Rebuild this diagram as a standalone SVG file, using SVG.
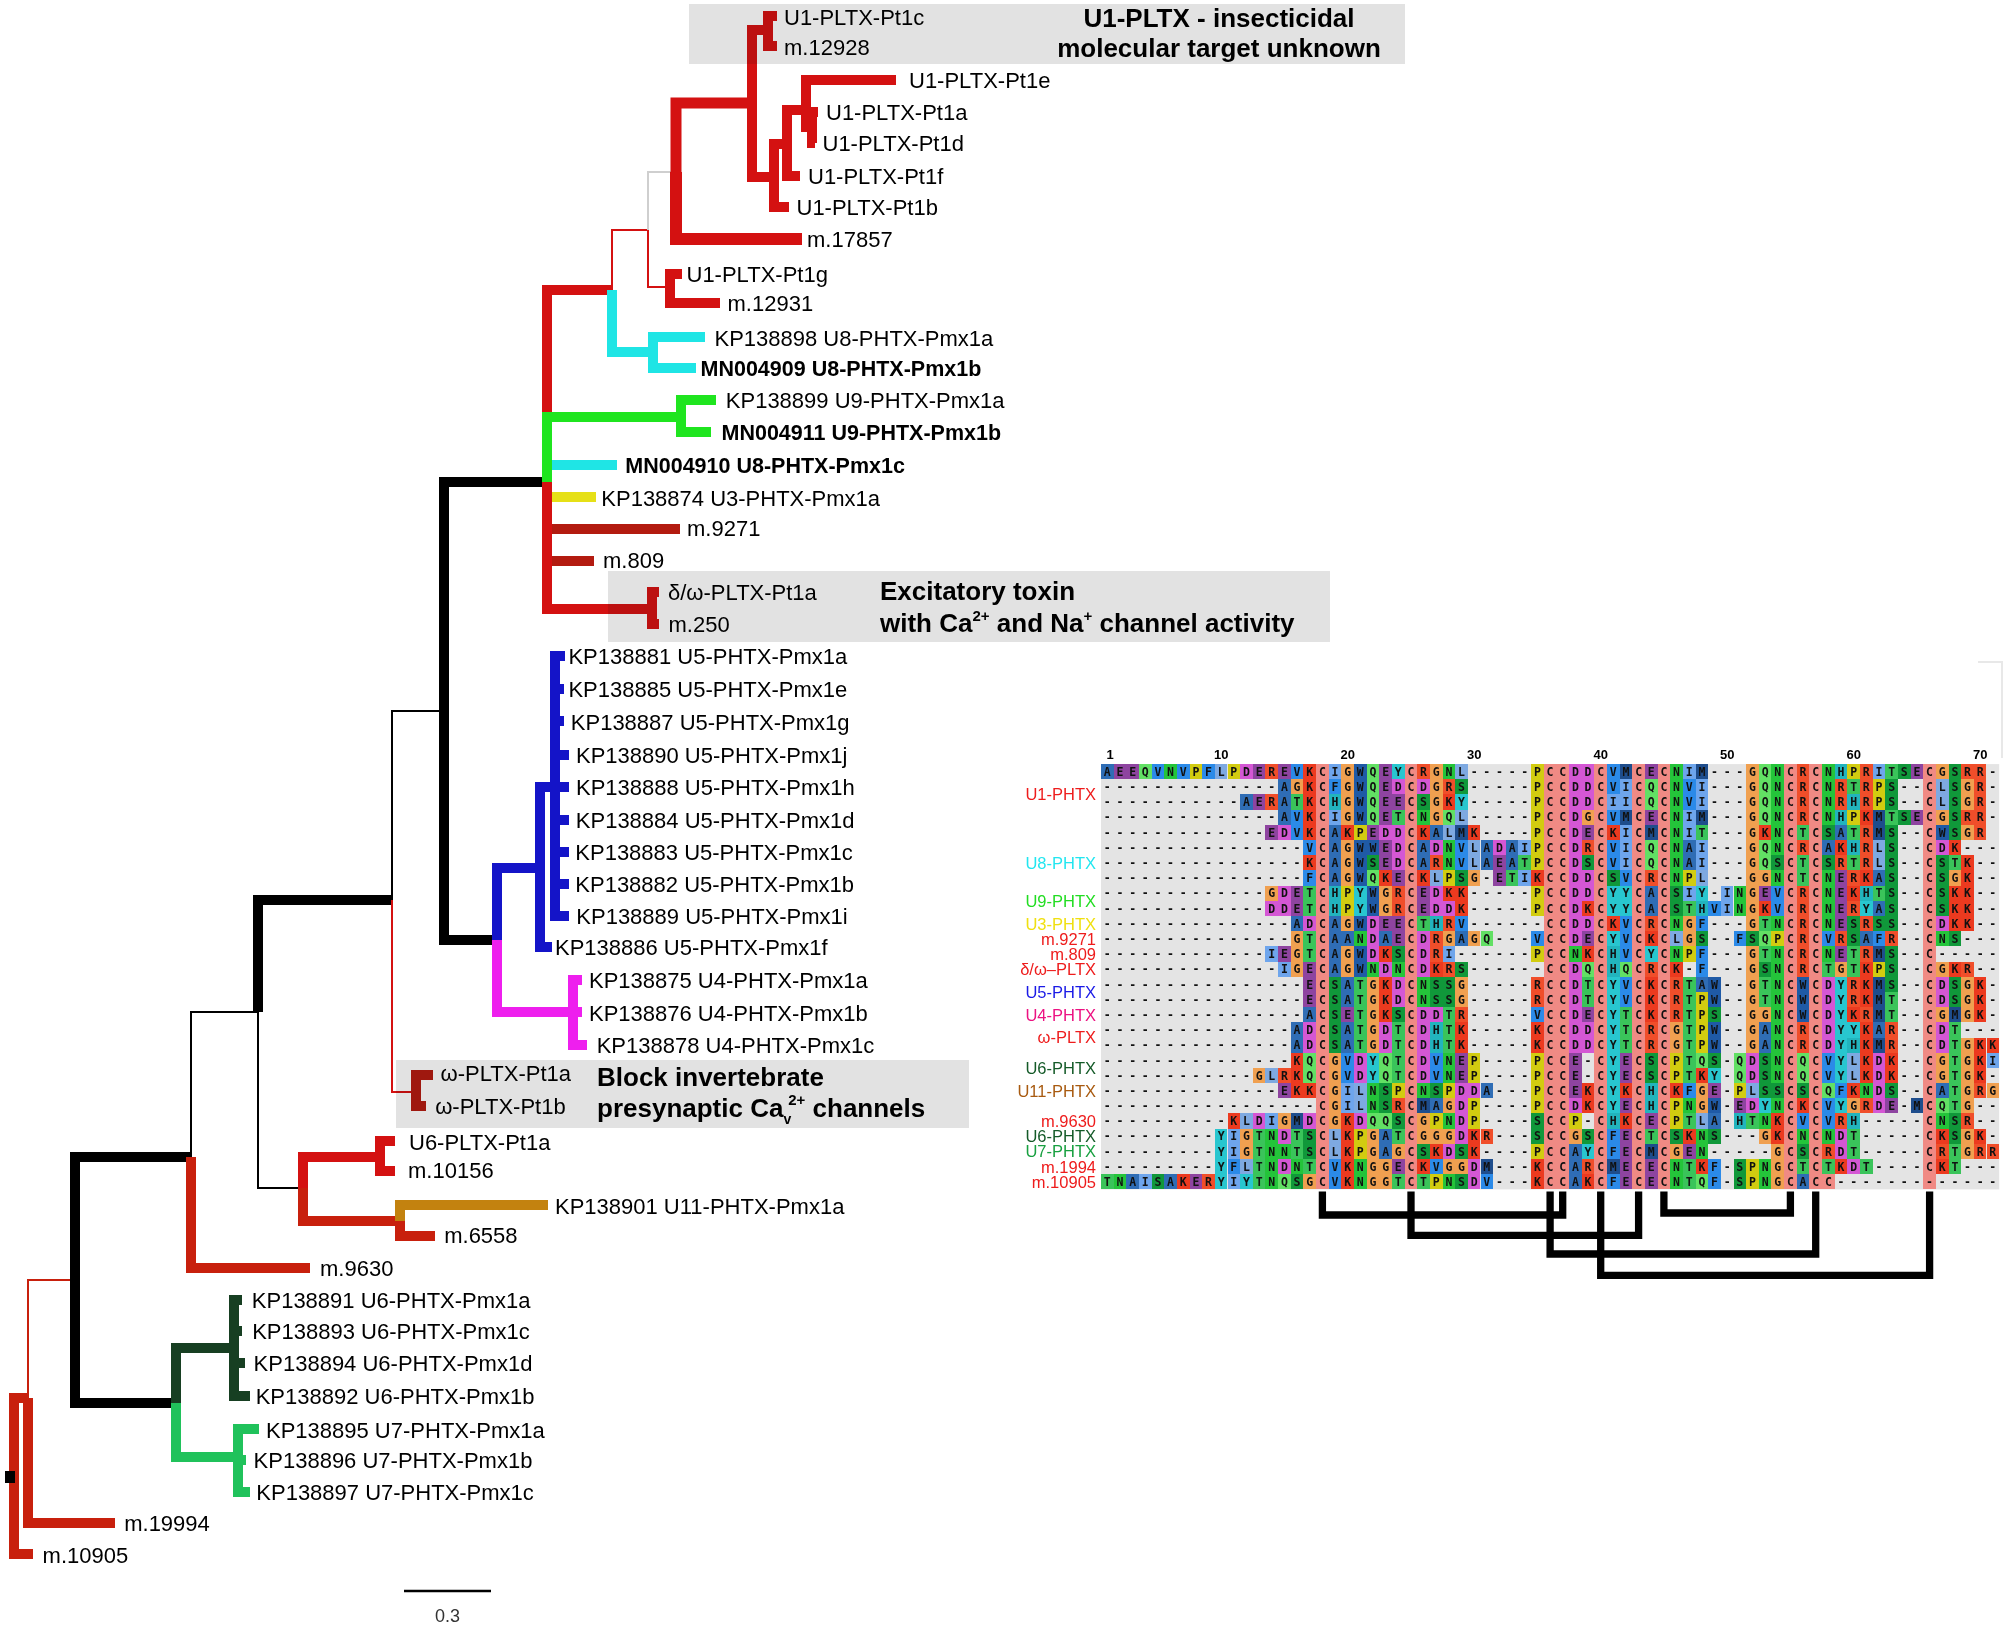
<svg xmlns="http://www.w3.org/2000/svg" width="2008" height="1630" viewBox="0 0 2008 1630">
<style>
.lb{font-family:"Liberation Sans",Arial,Helvetica,sans-serif;font-size:22px;fill:#000}
.bd{font-weight:bold;font-size:21.5px}
.an{font-family:"Liberation Sans",Arial,Helvetica,sans-serif;font-size:26px;font-weight:bold;fill:#000}
.bx{fill:#e2e2e2;mix-blend-mode:multiply}
#connectors path{fill:none;stroke-linejoin:miter;stroke-linecap:butt}
.t{stroke-width:10}
.n{stroke-width:2}
.k{stroke:#000}.rd{stroke:#d41111}.dr{stroke:#b31b10}.or{stroke:#c8200d}.cy{stroke:#1fe5e5}.gn{stroke:#1fe51f}.ye{stroke:#e6e017}.bu{stroke:#1414c8}.mg{stroke:#ee1fee}.dg{stroke:#173f22}.lg{stroke:#20c25b}.bw{stroke:#c3820f}.gy{stroke:#cfcfcf}
.sq{font-family:"DejaVu Sans Mono",monospace;font-weight:bold;font-size:11.5px;letter-spacing:5.726px;fill:#111}
.rl{font-family:"Liberation Sans",Arial,sans-serif;font-size:16.5px;text-anchor:end}
.nm{font-family:"Liberation Sans",Arial,sans-serif;font-size:13px;font-weight:bold;text-anchor:middle;fill:#000}
.ss{fill:none;stroke:#000;stroke-width:7.3;stroke-linejoin:miter}
</style>
<defs>
<rect id="A" width="1" height="1" fill="#2f6db5"/>
<rect id="C" width="1" height="1" fill="#f08a84"/>
<rect id="D" width="1" height="1" fill="#d457d4"/>
<rect id="E" width="1" height="1" fill="#8e44a0"/>
<rect id="F" width="1" height="1" fill="#2b8ae8"/>
<rect id="G" width="1" height="1" fill="#f0a050"/>
<rect id="H" width="1" height="1" fill="#22b4bd"/>
<rect id="I" width="1" height="1" fill="#6ea5ec"/>
<rect id="K" width="1" height="1" fill="#ec3a1f"/>
<rect id="L" width="1" height="1" fill="#7ea9e1"/>
<rect id="M" width="1" height="1" fill="#1e4d8c"/>
<rect id="N" width="1" height="1" fill="#24c43a"/>
<rect id="P" width="1" height="1" fill="#d2cc10"/>
<rect id="Q" width="1" height="1" fill="#62e064"/>
<rect id="R" width="1" height="1" fill="#f04e2a"/>
<rect id="S" width="1" height="1" fill="#10983a"/>
<rect id="T" width="1" height="1" fill="#3ac45a"/>
<rect id="V" width="1" height="1" fill="#2b8ae8"/>
<rect id="W" width="1" height="1" fill="#1f5aa6"/>
<rect id="Y" width="1" height="1" fill="#28c6cf"/>
</defs>
<rect width="2008" height="1630" fill="#fff"/>

<g id="connectors">
<path class="t or" d="M14 1475V1398H28"/>
<path class="t or" d="M14 1475V1554H33"/>
<path class="n or" d="M28 1398V1280H75"/>
<path class="t or" d="M28 1398V1523H115"/>
<path class="t k" d="M75 1280V1157H191"/>
<path class="t k" d="M75 1280V1403H176"/>
<path class="n k" d="M191 1157V1012H258"/>
<path class="t or" d="M191 1157V1268H310"/>
<path class="t k" d="M258 1012V900H392"/>
<path class="n k" d="M258 1012V1188H303"/>
<path class="n k" d="M392 900V711H444"/>
<path class="n rd" d="M392 900V1092H416"/>
<path class="t dr" d="M416 1092V1075H433"/>
<path class="t dr" d="M416 1092V1106H426"/>
<path class="t k" d="M444 711V482H547"/>
<path class="t k" d="M444 711V940H497"/>
<path class="t rd" d="M547 482V290H612"/>
<path class="t cy" d="M547 482V465H617"/>
<path class="t gn" d="M547 482V417H681"/>
<path class="t ye" d="M547 482V497H596"/>
<path class="t dr" d="M547 482V529H680"/>
<path class="t dr" d="M547 482V561H594"/>
<path class="t rd" d="M547 482V609H652"/>
<path class="n rd" d="M612 290V230H648"/>
<path class="t cy" d="M612 290V352H653"/>
<path class="n gy" d="M648 230V172H676"/>
<path class="n rd" d="M648 230V287H670"/>
<path class="rd" stroke-width="11" d="M676 172V103H752"/>
<path class="rd" stroke-width="12" d="M676 172V239H802"/>
<path class="t rd" d="M752 103V30H768"/>
<path class="t rd" d="M752 103V177H774"/>
<path class="t rd" d="M768 30V16H777"/>
<path class="t rd" d="M768 30V46H777"/>
<path class="t rd" d="M774 177V144H787"/>
<path class="t rd" d="M774 177V207H789"/>
<path class="t rd" d="M787 144V110H806"/>
<path class="t rd" d="M787 144V176H800"/>
<path class="t rd" d="M806 110V80H896"/>
<path class="t rd" d="M806 110V127H812"/>
<path class="t rd" d="M812 127V112H818"/>
<path class="t rd" d="M812 127V143H815"/>
<path class="t rd" d="M670 287V274H682"/>
<path class="t rd" d="M670 287V303H720"/>
<path class="t cy" d="M653 352V337H705"/>
<path class="t cy" d="M653 352V368H696"/>
<path class="t gn" d="M681 417V400H716"/>
<path class="t gn" d="M681 417V432H711"/>
<path class="t rd" d="M652 609V592H659"/>
<path class="t rd" d="M652 609V624H659"/>
<path class="t bu" d="M497 940V868H540"/>
<path class="t mg" d="M497 940V1012H573"/>
<path class="t bu" d="M540 868V787H555"/>
<path class="t bu" d="M540 868V947H552"/>
<path class="t bu" d="M555 787V656H565"/>
<path class="t bu" d="M555 787V689H564"/>
<path class="t bu" d="M555 787V721H564"/>
<path class="t bu" d="M555 787V755H569"/>
<path class="t bu" d="M555 787H569"/>
<path class="t bu" d="M555 787V820H569"/>
<path class="t bu" d="M555 787V852H569"/>
<path class="t bu" d="M555 787V884H569"/>
<path class="t bu" d="M555 787V916H569"/>
<path class="t mg" d="M573 1012V980H582"/>
<path class="t mg" d="M573 1012H582"/>
<path class="t mg" d="M573 1012V1045H587"/>
<path class="t rd" d="M303 1188V1157H380"/>
<path class="t or" d="M303 1188V1221H400"/>
<path class="t rd" d="M380 1157V1141H395"/>
<path class="t rd" d="M380 1157V1171H395"/>
<path class="t bw" d="M400 1221V1205H548"/>
<path class="t or" d="M400 1221V1236H435"/>
<path class="t dg" d="M176 1403V1348H234"/>
<path class="t lg" d="M176 1403V1457H238"/>
<path class="t dg" d="M234 1348V1300H242"/>
<path class="t dg" d="M234 1348V1331H242"/>
<path class="t dg" d="M234 1348V1363H245"/>
<path class="t dg" d="M234 1348V1396H250"/>
<path class="t lg" d="M238 1457V1429H259"/>
<path class="t lg" d="M238 1457V1460H246"/>
<path class="t lg" d="M238 1457V1492H250"/>
</g>
<g id="root"><rect x="5" y="1471" width="10" height="12" fill="#000"/></g>

<g id="box-u1"><rect class="bx" x="689" y="4" width="716" height="60"/>
<text class="an" x="1219" y="27" text-anchor="middle">U1-PLTX - insecticidal</text>
<text class="an" x="1219" y="57" text-anchor="middle">molecular target unknown</text></g>
<g id="box-excitatory"><rect class="bx" x="608" y="571" width="722" height="71"/>
<text class="an" x="880" y="600">Excitatory toxin</text>
<text class="an" x="880" y="632">with Ca<tspan font-size="15" dy="-11">2+</tspan><tspan dy="11"> and Na</tspan><tspan font-size="15" dy="-11">+</tspan><tspan dy="11"> channel activity</tspan></text></g>
<g id="box-block"><rect class="bx" x="396" y="1060" width="573" height="68"/>
<text class="an" x="597" y="1086">Block invertebrate</text>
<text class="an" x="597" y="1117">presynaptic Ca<tspan font-size="14" dy="7">v</tspan><tspan font-size="15" dx="-3" dy="-19">2+</tspan><tspan dy="12"> channels</tspan></text></g>

<g id="leaf-U1-PLTX-Pt1c"><text class="lb" x="784" y="24.5">U1-PLTX-Pt1c</text></g>
<g id="leaf-m12928"><text class="lb" x="784" y="54.5">m.12928</text></g>
<g id="leaf-U1-PLTX-Pt1e"><text class="lb" x="909" y="88">U1-PLTX-Pt1e</text></g>
<g id="leaf-U1-PLTX-Pt1a"><text class="lb" x="826" y="120">U1-PLTX-Pt1a</text></g>
<g id="leaf-U1-PLTX-Pt1d"><text class="lb" x="822.5" y="151">U1-PLTX-Pt1d</text></g>
<g id="leaf-U1-PLTX-Pt1f"><text class="lb" x="808" y="184">U1-PLTX-Pt1f</text></g>
<g id="leaf-U1-PLTX-Pt1b"><text class="lb" x="796.5" y="215">U1-PLTX-Pt1b</text></g>
<g id="leaf-m17857"><text class="lb" x="807" y="246.5">m.17857</text></g>
<g id="leaf-U1-PLTX-Pt1g"><text class="lb" x="686.5" y="282">U1-PLTX-Pt1g</text></g>
<g id="leaf-m12931"><text class="lb" x="727.5" y="311">m.12931</text></g>
<g id="leaf-KP138898"><text class="lb" x="714.5" y="345.5">KP138898 U8-PHTX-Pmx1a</text></g>
<g id="leaf-MN004909"><text class="lb bd" x="700.5" y="376">MN004909 U8-PHTX-Pmx1b</text></g>
<g id="leaf-KP138899"><text class="lb" x="725.8" y="408">KP138899 U9-PHTX-Pmx1a</text></g>
<g id="leaf-MN004911"><text class="lb bd" x="721.5" y="440">MN004911 U9-PHTX-Pmx1b</text></g>
<g id="leaf-MN004910"><text class="lb bd" x="625.3" y="473">MN004910 U8-PHTX-Pmx1c</text></g>
<g id="leaf-KP138874"><text class="lb" x="601.3" y="505.5">KP138874 U3-PHTX-Pmx1a</text></g>
<g id="leaf-m9271"><text class="lb" x="687" y="536">m.9271</text></g>
<g id="leaf-m809"><text class="lb" x="603" y="568">m.809</text></g>
<g id="leaf-dw-PLTX-Pt1a"><text class="lb" x="668" y="599.5">δ/ω-PLTX-Pt1a</text></g>
<g id="leaf-m250"><text class="lb" x="668.5" y="632">m.250</text></g>
<g id="leaf-KP138881"><text class="lb" x="568.4" y="663.5">KP138881 U5-PHTX-Pmx1a</text></g>
<g id="leaf-KP138885"><text class="lb" x="568.4" y="697">KP138885 U5-PHTX-Pmx1e</text></g>
<g id="leaf-KP138887"><text class="lb" x="570.8" y="729.5">KP138887 U5-PHTX-Pmx1g</text></g>
<g id="leaf-KP138890"><text class="lb" x="576" y="762.5">KP138890 U5-PHTX-Pmx1j</text></g>
<g id="leaf-KP138888"><text class="lb" x="576" y="794.5">KP138888 U5-PHTX-Pmx1h</text></g>
<g id="leaf-KP138884"><text class="lb" x="575.8" y="828">KP138884 U5-PHTX-Pmx1d</text></g>
<g id="leaf-KP138883"><text class="lb" x="575.3" y="860">KP138883 U5-PHTX-Pmx1c</text></g>
<g id="leaf-KP138882"><text class="lb" x="575.3" y="892">KP138882 U5-PHTX-Pmx1b</text></g>
<g id="leaf-KP138889"><text class="lb" x="576.3" y="923.5">KP138889 U5-PHTX-Pmx1i</text></g>
<g id="leaf-KP138886"><text class="lb" x="555" y="955">KP138886 U5-PHTX-Pmx1f</text></g>
<g id="leaf-KP138875"><text class="lb" x="589" y="987.5">KP138875 U4-PHTX-Pmx1a</text></g>
<g id="leaf-KP138876"><text class="lb" x="589" y="1021">KP138876 U4-PHTX-Pmx1b</text></g>
<g id="leaf-KP138878"><text class="lb" x="596.7" y="1053">KP138878 U4-PHTX-Pmx1c</text></g>
<g id="leaf-w-PLTX-Pt1a"><text class="lb" x="440.5" y="1081">ω-PLTX-Pt1a</text></g>
<g id="leaf-w-PLTX-Pt1b"><text class="lb" x="435.2" y="1113.5">ω-PLTX-Pt1b</text></g>
<g id="leaf-U6-PLTX-Pt1a"><text class="lb" x="409" y="1149.5">U6-PLTX-Pt1a</text></g>
<g id="leaf-m10156"><text class="lb" x="408" y="1178">m.10156</text></g>
<g id="leaf-KP138901"><text class="lb" x="555" y="1214">KP138901 U11-PHTX-Pmx1a</text></g>
<g id="leaf-m6558"><text class="lb" x="444.2" y="1242.5">m.6558</text></g>
<g id="leaf-m9630"><text class="lb" x="320" y="1276">m.9630</text></g>
<g id="leaf-KP138891"><text class="lb" x="251.8" y="1308">KP138891 U6-PHTX-Pmx1a</text></g>
<g id="leaf-KP138893"><text class="lb" x="252.2" y="1339">KP138893 U6-PHTX-Pmx1c</text></g>
<g id="leaf-KP138894"><text class="lb" x="253.6" y="1371">KP138894 U6-PHTX-Pmx1d</text></g>
<g id="leaf-KP138892"><text class="lb" x="255.7" y="1404">KP138892 U6-PHTX-Pmx1b</text></g>
<g id="leaf-KP138895"><text class="lb" x="266" y="1437.5">KP138895 U7-PHTX-Pmx1a</text></g>
<g id="leaf-KP138896"><text class="lb" x="253.6" y="1468.4">KP138896 U7-PHTX-Pmx1b</text></g>
<g id="leaf-KP138897"><text class="lb" x="256.3" y="1500.3">KP138897 U7-PHTX-Pmx1c</text></g>
<g id="leaf-m19994"><text class="lb" x="124.2" y="1531">m.19994</text></g>
<g id="leaf-m10905"><text class="lb" x="42.6" y="1562.5">m.10905</text></g>

<g id="scale-bar"><line x1="404" y1="1591" x2="491" y2="1591" stroke="#000" stroke-width="2.5"/>
<text x="447.5" y="1622" text-anchor="middle" font-family="Liberation Sans, Arial, sans-serif" font-size="18" fill="#333">0.3</text></g>

<path d="M1978 662H2002V758" fill="none" stroke="#e8e8e8" stroke-width="2"/>

<g id="alignment">
<g id="numbers">
<text class="nm" x="1110" y="759">1</text><text class="nm" x="1221.2" y="759">10</text><text class="nm" x="1347.7" y="759">20</text><text class="nm" x="1474.2" y="759">30</text><text class="nm" x="1600.7" y="759">40</text><text class="nm" x="1727.2" y="759">50</text><text class="nm" x="1853.7" y="759">60</text><text class="nm" x="1980.2" y="759">70</text>
</g>
<rect x="1101" y="764.1" width="898.2" height="425.3" fill="#e4e4e4"/>
<g transform="translate(1101 764.1) scale(12.65 15.19)" shape-rendering="crispEdges">
<rect x="17" width="1" height="28" fill="#f08a84"/><rect x="24" width="1" height="28" fill="#f08a84"/><rect x="35" width="1" height="28" fill="#f08a84"/><rect x="36" width="1" height="28" fill="#f08a84"/><rect x="39" width="1" height="28" fill="#f08a84"/><rect x="42" width="1" height="28" fill="#f08a84"/><rect x="44" width="1" height="28" fill="#f08a84"/><rect x="54" width="1" height="28" fill="#f08a84"/><rect x="56" width="1" height="28" fill="#f08a84"/><rect x="65" width="1" height="28" fill="#f08a84"/>
<g><use href="#A" x="0"/><use href="#E" x="1"/><use href="#E" x="2"/><use href="#Q" x="3"/><use href="#V" x="4"/><use href="#N" x="5"/><use href="#V" x="6"/><use href="#P" x="7"/><use href="#F" x="8"/><use href="#L" x="9"/><use href="#P" x="10"/><use href="#D" x="11"/><use href="#E" x="12"/><use href="#R" x="13"/><use href="#E" x="14"/><use href="#V" x="15"/><use href="#K" x="16"/><use href="#I" x="18"/><use href="#G" x="19"/><use href="#W" x="20"/><use href="#Q" x="21"/><use href="#E" x="22"/><use href="#Y" x="23"/><use href="#R" x="25"/><use href="#G" x="26"/><use href="#N" x="27"/><use href="#L" x="28"/><use href="#P" x="34"/><use href="#D" x="37"/><use href="#D" x="38"/><use href="#V" x="40"/><use href="#M" x="41"/><use href="#E" x="43"/><use href="#N" x="45"/><use href="#I" x="46"/><use href="#M" x="47"/><use href="#G" x="51"/><use href="#Q" x="52"/><use href="#N" x="53"/><use href="#R" x="55"/><use href="#N" x="57"/><use href="#H" x="58"/><use href="#P" x="59"/><use href="#R" x="60"/><use href="#I" x="61"/><use href="#T" x="62"/><use href="#S" x="63"/><use href="#E" x="64"/><use href="#G" x="66"/><use href="#S" x="67"/><use href="#R" x="68"/><use href="#R" x="69"/></g>
<g transform="translate(0 1)"><use href="#A" x="14"/><use href="#G" x="15"/><use href="#K" x="16"/><use href="#F" x="18"/><use href="#G" x="19"/><use href="#W" x="20"/><use href="#Q" x="21"/><use href="#E" x="22"/><use href="#D" x="23"/><use href="#D" x="25"/><use href="#G" x="26"/><use href="#R" x="27"/><use href="#S" x="28"/><use href="#P" x="34"/><use href="#D" x="37"/><use href="#D" x="38"/><use href="#V" x="40"/><use href="#I" x="41"/><use href="#Q" x="43"/><use href="#N" x="45"/><use href="#V" x="46"/><use href="#I" x="47"/><use href="#G" x="51"/><use href="#Q" x="52"/><use href="#N" x="53"/><use href="#R" x="55"/><use href="#N" x="57"/><use href="#R" x="58"/><use href="#T" x="59"/><use href="#R" x="60"/><use href="#P" x="61"/><use href="#S" x="62"/><use href="#L" x="66"/><use href="#S" x="67"/><use href="#G" x="68"/><use href="#R" x="69"/></g>
<g transform="translate(0 2)"><use href="#A" x="11"/><use href="#E" x="12"/><use href="#R" x="13"/><use href="#A" x="14"/><use href="#T" x="15"/><use href="#K" x="16"/><use href="#H" x="18"/><use href="#G" x="19"/><use href="#W" x="20"/><use href="#Q" x="21"/><use href="#E" x="22"/><use href="#E" x="23"/><use href="#S" x="25"/><use href="#G" x="26"/><use href="#K" x="27"/><use href="#Y" x="28"/><use href="#P" x="34"/><use href="#D" x="37"/><use href="#D" x="38"/><use href="#I" x="40"/><use href="#I" x="41"/><use href="#Q" x="43"/><use href="#N" x="45"/><use href="#V" x="46"/><use href="#I" x="47"/><use href="#G" x="51"/><use href="#Q" x="52"/><use href="#N" x="53"/><use href="#R" x="55"/><use href="#N" x="57"/><use href="#R" x="58"/><use href="#H" x="59"/><use href="#R" x="60"/><use href="#P" x="61"/><use href="#S" x="62"/><use href="#L" x="66"/><use href="#S" x="67"/><use href="#G" x="68"/><use href="#R" x="69"/></g>
<g transform="translate(0 3)"><use href="#A" x="14"/><use href="#V" x="15"/><use href="#K" x="16"/><use href="#I" x="18"/><use href="#G" x="19"/><use href="#W" x="20"/><use href="#Q" x="21"/><use href="#E" x="22"/><use href="#T" x="23"/><use href="#N" x="25"/><use href="#G" x="26"/><use href="#Q" x="27"/><use href="#L" x="28"/><use href="#P" x="34"/><use href="#D" x="37"/><use href="#G" x="38"/><use href="#V" x="40"/><use href="#M" x="41"/><use href="#E" x="43"/><use href="#N" x="45"/><use href="#I" x="46"/><use href="#M" x="47"/><use href="#G" x="51"/><use href="#Q" x="52"/><use href="#N" x="53"/><use href="#R" x="55"/><use href="#N" x="57"/><use href="#H" x="58"/><use href="#P" x="59"/><use href="#K" x="60"/><use href="#M" x="61"/><use href="#T" x="62"/><use href="#S" x="63"/><use href="#E" x="64"/><use href="#G" x="66"/><use href="#S" x="67"/><use href="#R" x="68"/><use href="#R" x="69"/></g>
<g transform="translate(0 4)"><use href="#E" x="13"/><use href="#D" x="14"/><use href="#V" x="15"/><use href="#K" x="16"/><use href="#A" x="18"/><use href="#K" x="19"/><use href="#P" x="20"/><use href="#E" x="21"/><use href="#D" x="22"/><use href="#D" x="23"/><use href="#K" x="25"/><use href="#A" x="26"/><use href="#L" x="27"/><use href="#M" x="28"/><use href="#K" x="29"/><use href="#P" x="34"/><use href="#D" x="37"/><use href="#E" x="38"/><use href="#K" x="40"/><use href="#I" x="41"/><use href="#M" x="43"/><use href="#N" x="45"/><use href="#I" x="46"/><use href="#T" x="47"/><use href="#G" x="51"/><use href="#K" x="52"/><use href="#N" x="53"/><use href="#T" x="55"/><use href="#S" x="57"/><use href="#A" x="58"/><use href="#T" x="59"/><use href="#R" x="60"/><use href="#M" x="61"/><use href="#S" x="62"/><use href="#W" x="66"/><use href="#S" x="67"/><use href="#G" x="68"/><use href="#R" x="69"/></g>
<g transform="translate(0 5)"><use href="#V" x="16"/><use href="#A" x="18"/><use href="#G" x="19"/><use href="#W" x="20"/><use href="#W" x="21"/><use href="#E" x="22"/><use href="#D" x="23"/><use href="#A" x="25"/><use href="#D" x="26"/><use href="#N" x="27"/><use href="#V" x="28"/><use href="#L" x="29"/><use href="#A" x="30"/><use href="#D" x="31"/><use href="#A" x="32"/><use href="#I" x="33"/><use href="#P" x="34"/><use href="#D" x="37"/><use href="#R" x="38"/><use href="#V" x="40"/><use href="#I" x="41"/><use href="#Q" x="43"/><use href="#N" x="45"/><use href="#A" x="46"/><use href="#I" x="47"/><use href="#G" x="51"/><use href="#Q" x="52"/><use href="#N" x="53"/><use href="#R" x="55"/><use href="#A" x="57"/><use href="#K" x="58"/><use href="#H" x="59"/><use href="#R" x="60"/><use href="#L" x="61"/><use href="#S" x="62"/><use href="#D" x="66"/><use href="#K" x="67"/></g>
<g transform="translate(0 6)"><use href="#K" x="16"/><use href="#A" x="18"/><use href="#G" x="19"/><use href="#W" x="20"/><use href="#S" x="21"/><use href="#E" x="22"/><use href="#D" x="23"/><use href="#A" x="25"/><use href="#R" x="26"/><use href="#N" x="27"/><use href="#V" x="28"/><use href="#L" x="29"/><use href="#A" x="30"/><use href="#E" x="31"/><use href="#A" x="32"/><use href="#T" x="33"/><use href="#P" x="34"/><use href="#D" x="37"/><use href="#S" x="38"/><use href="#V" x="40"/><use href="#I" x="41"/><use href="#Q" x="43"/><use href="#N" x="45"/><use href="#A" x="46"/><use href="#I" x="47"/><use href="#G" x="51"/><use href="#Q" x="52"/><use href="#S" x="53"/><use href="#T" x="55"/><use href="#S" x="57"/><use href="#R" x="58"/><use href="#T" x="59"/><use href="#R" x="60"/><use href="#L" x="61"/><use href="#S" x="62"/><use href="#S" x="66"/><use href="#T" x="67"/><use href="#K" x="68"/></g>
<g transform="translate(0 7)"><use href="#F" x="16"/><use href="#A" x="18"/><use href="#G" x="19"/><use href="#W" x="20"/><use href="#Q" x="21"/><use href="#K" x="22"/><use href="#E" x="23"/><use href="#K" x="25"/><use href="#L" x="26"/><use href="#P" x="27"/><use href="#S" x="28"/><use href="#G" x="29"/><use href="#E" x="31"/><use href="#T" x="32"/><use href="#I" x="33"/><use href="#K" x="34"/><use href="#D" x="37"/><use href="#D" x="38"/><use href="#S" x="40"/><use href="#V" x="41"/><use href="#R" x="43"/><use href="#N" x="45"/><use href="#P" x="46"/><use href="#L" x="47"/><use href="#G" x="51"/><use href="#G" x="52"/><use href="#N" x="53"/><use href="#T" x="55"/><use href="#N" x="57"/><use href="#E" x="58"/><use href="#R" x="59"/><use href="#K" x="60"/><use href="#A" x="61"/><use href="#S" x="62"/><use href="#S" x="66"/><use href="#G" x="67"/><use href="#K" x="68"/></g>
<g transform="translate(0 8)"><use href="#G" x="13"/><use href="#D" x="14"/><use href="#E" x="15"/><use href="#T" x="16"/><use href="#H" x="18"/><use href="#P" x="19"/><use href="#Y" x="20"/><use href="#W" x="21"/><use href="#G" x="22"/><use href="#R" x="23"/><use href="#E" x="25"/><use href="#D" x="26"/><use href="#K" x="27"/><use href="#K" x="28"/><use href="#P" x="34"/><use href="#D" x="37"/><use href="#D" x="38"/><use href="#Y" x="40"/><use href="#Y" x="41"/><use href="#A" x="43"/><use href="#S" x="45"/><use href="#I" x="46"/><use href="#Y" x="47"/><use href="#I" x="49"/><use href="#N" x="50"/><use href="#G" x="51"/><use href="#E" x="52"/><use href="#V" x="53"/><use href="#R" x="55"/><use href="#N" x="57"/><use href="#E" x="58"/><use href="#K" x="59"/><use href="#H" x="60"/><use href="#T" x="61"/><use href="#S" x="62"/><use href="#S" x="66"/><use href="#K" x="67"/><use href="#K" x="68"/></g>
<g transform="translate(0 9)"><use href="#D" x="13"/><use href="#D" x="14"/><use href="#E" x="15"/><use href="#T" x="16"/><use href="#H" x="18"/><use href="#P" x="19"/><use href="#Y" x="20"/><use href="#W" x="21"/><use href="#G" x="22"/><use href="#R" x="23"/><use href="#E" x="25"/><use href="#D" x="26"/><use href="#D" x="27"/><use href="#K" x="28"/><use href="#P" x="34"/><use href="#D" x="37"/><use href="#K" x="38"/><use href="#Y" x="40"/><use href="#Y" x="41"/><use href="#A" x="43"/><use href="#S" x="45"/><use href="#T" x="46"/><use href="#H" x="47"/><use href="#V" x="48"/><use href="#I" x="49"/><use href="#N" x="50"/><use href="#G" x="51"/><use href="#K" x="52"/><use href="#V" x="53"/><use href="#R" x="55"/><use href="#N" x="57"/><use href="#E" x="58"/><use href="#R" x="59"/><use href="#Y" x="60"/><use href="#A" x="61"/><use href="#S" x="62"/><use href="#S" x="66"/><use href="#K" x="67"/><use href="#K" x="68"/></g>
<g transform="translate(0 10)"><use href="#A" x="15"/><use href="#D" x="16"/><use href="#A" x="18"/><use href="#G" x="19"/><use href="#W" x="20"/><use href="#D" x="21"/><use href="#E" x="22"/><use href="#E" x="23"/><use href="#T" x="25"/><use href="#H" x="26"/><use href="#R" x="27"/><use href="#V" x="28"/><use href="#D" x="37"/><use href="#D" x="38"/><use href="#K" x="40"/><use href="#V" x="41"/><use href="#R" x="43"/><use href="#N" x="45"/><use href="#G" x="46"/><use href="#F" x="47"/><use href="#G" x="51"/><use href="#T" x="52"/><use href="#N" x="53"/><use href="#R" x="55"/><use href="#N" x="57"/><use href="#E" x="58"/><use href="#S" x="59"/><use href="#R" x="60"/><use href="#S" x="61"/><use href="#S" x="62"/><use href="#D" x="66"/><use href="#K" x="67"/><use href="#K" x="68"/></g>
<g transform="translate(0 11)"><use href="#G" x="15"/><use href="#T" x="16"/><use href="#A" x="18"/><use href="#A" x="19"/><use href="#N" x="20"/><use href="#D" x="21"/><use href="#A" x="22"/><use href="#E" x="23"/><use href="#D" x="25"/><use href="#R" x="26"/><use href="#G" x="27"/><use href="#A" x="28"/><use href="#G" x="29"/><use href="#Q" x="30"/><use href="#V" x="34"/><use href="#D" x="37"/><use href="#E" x="38"/><use href="#Y" x="40"/><use href="#V" x="41"/><use href="#K" x="43"/><use href="#L" x="45"/><use href="#G" x="46"/><use href="#S" x="47"/><use href="#F" x="50"/><use href="#S" x="51"/><use href="#Q" x="52"/><use href="#P" x="53"/><use href="#R" x="55"/><use href="#V" x="57"/><use href="#R" x="58"/><use href="#S" x="59"/><use href="#A" x="60"/><use href="#F" x="61"/><use href="#R" x="62"/><use href="#N" x="66"/><use href="#S" x="67"/></g>
<g transform="translate(0 12)"><use href="#I" x="13"/><use href="#E" x="14"/><use href="#G" x="15"/><use href="#T" x="16"/><use href="#A" x="18"/><use href="#G" x="19"/><use href="#W" x="20"/><use href="#D" x="21"/><use href="#K" x="22"/><use href="#S" x="23"/><use href="#D" x="25"/><use href="#R" x="26"/><use href="#I" x="27"/><use href="#P" x="34"/><use href="#N" x="37"/><use href="#K" x="38"/><use href="#H" x="40"/><use href="#V" x="41"/><use href="#Y" x="43"/><use href="#N" x="45"/><use href="#P" x="46"/><use href="#F" x="47"/><use href="#G" x="51"/><use href="#T" x="52"/><use href="#N" x="53"/><use href="#R" x="55"/><use href="#N" x="57"/><use href="#E" x="58"/><use href="#T" x="59"/><use href="#R" x="60"/><use href="#M" x="61"/><use href="#S" x="62"/></g>
<g transform="translate(0 13)"><use href="#I" x="14"/><use href="#G" x="15"/><use href="#E" x="16"/><use href="#A" x="18"/><use href="#G" x="19"/><use href="#W" x="20"/><use href="#N" x="21"/><use href="#D" x="22"/><use href="#N" x="23"/><use href="#D" x="25"/><use href="#K" x="26"/><use href="#R" x="27"/><use href="#S" x="28"/><use href="#D" x="37"/><use href="#Q" x="38"/><use href="#H" x="40"/><use href="#Q" x="41"/><use href="#R" x="43"/><use href="#K" x="45"/><use href="#F" x="47"/><use href="#G" x="51"/><use href="#S" x="52"/><use href="#N" x="53"/><use href="#R" x="55"/><use href="#T" x="57"/><use href="#G" x="58"/><use href="#T" x="59"/><use href="#K" x="60"/><use href="#P" x="61"/><use href="#S" x="62"/><use href="#G" x="66"/><use href="#K" x="67"/><use href="#R" x="68"/></g>
<g transform="translate(0 14)"><use href="#E" x="16"/><use href="#S" x="18"/><use href="#A" x="19"/><use href="#T" x="20"/><use href="#G" x="21"/><use href="#K" x="22"/><use href="#D" x="23"/><use href="#N" x="25"/><use href="#S" x="26"/><use href="#S" x="27"/><use href="#G" x="28"/><use href="#R" x="34"/><use href="#D" x="37"/><use href="#T" x="38"/><use href="#Y" x="40"/><use href="#V" x="41"/><use href="#K" x="43"/><use href="#R" x="45"/><use href="#T" x="46"/><use href="#A" x="47"/><use href="#W" x="48"/><use href="#G" x="51"/><use href="#T" x="52"/><use href="#N" x="53"/><use href="#W" x="55"/><use href="#D" x="57"/><use href="#Y" x="58"/><use href="#R" x="59"/><use href="#K" x="60"/><use href="#M" x="61"/><use href="#S" x="62"/><use href="#D" x="66"/><use href="#S" x="67"/><use href="#G" x="68"/><use href="#K" x="69"/></g>
<g transform="translate(0 15)"><use href="#E" x="16"/><use href="#S" x="18"/><use href="#A" x="19"/><use href="#T" x="20"/><use href="#G" x="21"/><use href="#K" x="22"/><use href="#D" x="23"/><use href="#N" x="25"/><use href="#S" x="26"/><use href="#S" x="27"/><use href="#G" x="28"/><use href="#R" x="34"/><use href="#D" x="37"/><use href="#T" x="38"/><use href="#Y" x="40"/><use href="#V" x="41"/><use href="#K" x="43"/><use href="#R" x="45"/><use href="#T" x="46"/><use href="#P" x="47"/><use href="#W" x="48"/><use href="#G" x="51"/><use href="#T" x="52"/><use href="#N" x="53"/><use href="#W" x="55"/><use href="#D" x="57"/><use href="#Y" x="58"/><use href="#R" x="59"/><use href="#K" x="60"/><use href="#M" x="61"/><use href="#T" x="62"/><use href="#D" x="66"/><use href="#S" x="67"/><use href="#G" x="68"/><use href="#K" x="69"/></g>
<g transform="translate(0 16)"><use href="#A" x="16"/><use href="#S" x="18"/><use href="#E" x="19"/><use href="#T" x="20"/><use href="#G" x="21"/><use href="#K" x="22"/><use href="#S" x="23"/><use href="#D" x="25"/><use href="#D" x="26"/><use href="#T" x="27"/><use href="#R" x="28"/><use href="#V" x="34"/><use href="#D" x="37"/><use href="#E" x="38"/><use href="#Y" x="40"/><use href="#T" x="41"/><use href="#K" x="43"/><use href="#R" x="45"/><use href="#T" x="46"/><use href="#P" x="47"/><use href="#S" x="48"/><use href="#G" x="51"/><use href="#G" x="52"/><use href="#N" x="53"/><use href="#W" x="55"/><use href="#D" x="57"/><use href="#Y" x="58"/><use href="#K" x="59"/><use href="#R" x="60"/><use href="#M" x="61"/><use href="#T" x="62"/><use href="#G" x="66"/><use href="#M" x="67"/><use href="#G" x="68"/><use href="#K" x="69"/></g>
<g transform="translate(0 17)"><use href="#A" x="15"/><use href="#D" x="16"/><use href="#S" x="18"/><use href="#A" x="19"/><use href="#T" x="20"/><use href="#G" x="21"/><use href="#D" x="22"/><use href="#T" x="23"/><use href="#D" x="25"/><use href="#H" x="26"/><use href="#T" x="27"/><use href="#K" x="28"/><use href="#K" x="34"/><use href="#D" x="37"/><use href="#D" x="38"/><use href="#Y" x="40"/><use href="#T" x="41"/><use href="#R" x="43"/><use href="#G" x="45"/><use href="#T" x="46"/><use href="#P" x="47"/><use href="#W" x="48"/><use href="#G" x="51"/><use href="#A" x="52"/><use href="#N" x="53"/><use href="#R" x="55"/><use href="#D" x="57"/><use href="#Y" x="58"/><use href="#Y" x="59"/><use href="#K" x="60"/><use href="#A" x="61"/><use href="#R" x="62"/><use href="#D" x="66"/><use href="#T" x="67"/></g>
<g transform="translate(0 18)"><use href="#A" x="15"/><use href="#D" x="16"/><use href="#S" x="18"/><use href="#A" x="19"/><use href="#T" x="20"/><use href="#G" x="21"/><use href="#D" x="22"/><use href="#T" x="23"/><use href="#D" x="25"/><use href="#H" x="26"/><use href="#T" x="27"/><use href="#K" x="28"/><use href="#K" x="34"/><use href="#D" x="37"/><use href="#D" x="38"/><use href="#Y" x="40"/><use href="#T" x="41"/><use href="#R" x="43"/><use href="#G" x="45"/><use href="#T" x="46"/><use href="#P" x="47"/><use href="#W" x="48"/><use href="#G" x="51"/><use href="#A" x="52"/><use href="#N" x="53"/><use href="#R" x="55"/><use href="#D" x="57"/><use href="#Y" x="58"/><use href="#H" x="59"/><use href="#K" x="60"/><use href="#M" x="61"/><use href="#R" x="62"/><use href="#D" x="66"/><use href="#T" x="67"/><use href="#G" x="68"/><use href="#K" x="69"/><use href="#K" x="70"/></g>
<g transform="translate(0 19)"><use href="#K" x="15"/><use href="#Q" x="16"/><use href="#G" x="18"/><use href="#V" x="19"/><use href="#D" x="20"/><use href="#Y" x="21"/><use href="#Q" x="22"/><use href="#T" x="23"/><use href="#D" x="25"/><use href="#V" x="26"/><use href="#N" x="27"/><use href="#E" x="28"/><use href="#P" x="29"/><use href="#P" x="34"/><use href="#E" x="37"/><use href="#Y" x="40"/><use href="#E" x="41"/><use href="#S" x="43"/><use href="#P" x="45"/><use href="#T" x="46"/><use href="#Q" x="47"/><use href="#S" x="48"/><use href="#Q" x="50"/><use href="#D" x="51"/><use href="#S" x="52"/><use href="#N" x="53"/><use href="#Q" x="55"/><use href="#V" x="57"/><use href="#Y" x="58"/><use href="#L" x="59"/><use href="#K" x="60"/><use href="#D" x="61"/><use href="#K" x="62"/><use href="#G" x="66"/><use href="#T" x="67"/><use href="#G" x="68"/><use href="#K" x="69"/><use href="#I" x="70"/></g>
<g transform="translate(0 20)"><use href="#G" x="12"/><use href="#L" x="13"/><use href="#R" x="14"/><use href="#K" x="15"/><use href="#Q" x="16"/><use href="#G" x="18"/><use href="#V" x="19"/><use href="#D" x="20"/><use href="#Y" x="21"/><use href="#Q" x="22"/><use href="#T" x="23"/><use href="#D" x="25"/><use href="#V" x="26"/><use href="#N" x="27"/><use href="#E" x="28"/><use href="#P" x="29"/><use href="#P" x="34"/><use href="#E" x="37"/><use href="#Y" x="40"/><use href="#E" x="41"/><use href="#S" x="43"/><use href="#P" x="45"/><use href="#T" x="46"/><use href="#K" x="47"/><use href="#Y" x="48"/><use href="#Q" x="50"/><use href="#D" x="51"/><use href="#S" x="52"/><use href="#N" x="53"/><use href="#Q" x="55"/><use href="#V" x="57"/><use href="#Y" x="58"/><use href="#L" x="59"/><use href="#K" x="60"/><use href="#D" x="61"/><use href="#K" x="62"/><use href="#G" x="66"/><use href="#T" x="67"/><use href="#G" x="68"/><use href="#K" x="69"/></g>
<g transform="translate(0 21)"><use href="#E" x="14"/><use href="#K" x="15"/><use href="#K" x="16"/><use href="#G" x="18"/><use href="#I" x="19"/><use href="#L" x="20"/><use href="#N" x="21"/><use href="#S" x="22"/><use href="#P" x="23"/><use href="#N" x="25"/><use href="#S" x="26"/><use href="#P" x="27"/><use href="#D" x="28"/><use href="#D" x="29"/><use href="#A" x="30"/><use href="#P" x="34"/><use href="#E" x="37"/><use href="#K" x="38"/><use href="#Y" x="40"/><use href="#K" x="41"/><use href="#H" x="43"/><use href="#K" x="45"/><use href="#F" x="46"/><use href="#G" x="47"/><use href="#E" x="48"/><use href="#P" x="50"/><use href="#L" x="51"/><use href="#S" x="52"/><use href="#S" x="53"/><use href="#S" x="55"/><use href="#Q" x="57"/><use href="#F" x="58"/><use href="#K" x="59"/><use href="#N" x="60"/><use href="#D" x="61"/><use href="#S" x="62"/><use href="#A" x="66"/><use href="#T" x="67"/><use href="#G" x="68"/><use href="#R" x="69"/><use href="#G" x="70"/></g>
<g transform="translate(0 22)"><use href="#G" x="18"/><use href="#I" x="19"/><use href="#L" x="20"/><use href="#N" x="21"/><use href="#S" x="22"/><use href="#R" x="23"/><use href="#M" x="25"/><use href="#A" x="26"/><use href="#G" x="27"/><use href="#D" x="28"/><use href="#P" x="29"/><use href="#P" x="34"/><use href="#D" x="37"/><use href="#K" x="38"/><use href="#Y" x="40"/><use href="#E" x="41"/><use href="#H" x="43"/><use href="#P" x="45"/><use href="#N" x="46"/><use href="#G" x="47"/><use href="#W" x="48"/><use href="#E" x="50"/><use href="#D" x="51"/><use href="#Y" x="52"/><use href="#N" x="53"/><use href="#K" x="55"/><use href="#V" x="57"/><use href="#Y" x="58"/><use href="#G" x="59"/><use href="#R" x="60"/><use href="#D" x="61"/><use href="#E" x="62"/><use href="#M" x="64"/><use href="#Q" x="66"/><use href="#T" x="67"/><use href="#G" x="68"/></g>
<g transform="translate(0 23)"><use href="#K" x="10"/><use href="#L" x="11"/><use href="#D" x="12"/><use href="#I" x="13"/><use href="#G" x="14"/><use href="#M" x="15"/><use href="#D" x="16"/><use href="#G" x="18"/><use href="#K" x="19"/><use href="#D" x="20"/><use href="#Q" x="21"/><use href="#Q" x="22"/><use href="#S" x="23"/><use href="#G" x="25"/><use href="#P" x="26"/><use href="#N" x="27"/><use href="#D" x="28"/><use href="#P" x="29"/><use href="#S" x="34"/><use href="#P" x="37"/><use href="#H" x="40"/><use href="#K" x="41"/><use href="#E" x="43"/><use href="#P" x="45"/><use href="#T" x="46"/><use href="#L" x="47"/><use href="#A" x="48"/><use href="#H" x="50"/><use href="#T" x="51"/><use href="#N" x="52"/><use href="#K" x="53"/><use href="#V" x="55"/><use href="#V" x="57"/><use href="#R" x="58"/><use href="#H" x="59"/><use href="#N" x="66"/><use href="#S" x="67"/><use href="#R" x="68"/></g>
<g transform="translate(0 24)"><use href="#Y" x="9"/><use href="#I" x="10"/><use href="#G" x="11"/><use href="#T" x="12"/><use href="#N" x="13"/><use href="#D" x="14"/><use href="#T" x="15"/><use href="#S" x="16"/><use href="#L" x="18"/><use href="#K" x="19"/><use href="#P" x="20"/><use href="#G" x="21"/><use href="#A" x="22"/><use href="#T" x="23"/><use href="#G" x="25"/><use href="#G" x="26"/><use href="#G" x="27"/><use href="#D" x="28"/><use href="#K" x="29"/><use href="#R" x="30"/><use href="#S" x="34"/><use href="#G" x="37"/><use href="#S" x="38"/><use href="#F" x="40"/><use href="#E" x="41"/><use href="#T" x="43"/><use href="#S" x="45"/><use href="#K" x="46"/><use href="#N" x="47"/><use href="#S" x="48"/><use href="#G" x="52"/><use href="#K" x="53"/><use href="#N" x="55"/><use href="#N" x="57"/><use href="#D" x="58"/><use href="#T" x="59"/><use href="#K" x="66"/><use href="#S" x="67"/><use href="#G" x="68"/><use href="#K" x="69"/></g>
<g transform="translate(0 25)"><use href="#Y" x="9"/><use href="#I" x="10"/><use href="#G" x="11"/><use href="#T" x="12"/><use href="#N" x="13"/><use href="#N" x="14"/><use href="#T" x="15"/><use href="#S" x="16"/><use href="#L" x="18"/><use href="#K" x="19"/><use href="#P" x="20"/><use href="#G" x="21"/><use href="#A" x="22"/><use href="#G" x="23"/><use href="#S" x="25"/><use href="#K" x="26"/><use href="#D" x="27"/><use href="#S" x="28"/><use href="#K" x="29"/><use href="#P" x="34"/><use href="#A" x="37"/><use href="#Y" x="38"/><use href="#F" x="40"/><use href="#E" x="41"/><use href="#M" x="43"/><use href="#G" x="45"/><use href="#E" x="46"/><use href="#N" x="47"/><use href="#G" x="53"/><use href="#S" x="55"/><use href="#R" x="57"/><use href="#D" x="58"/><use href="#T" x="59"/><use href="#R" x="66"/><use href="#T" x="67"/><use href="#G" x="68"/><use href="#R" x="69"/><use href="#R" x="70"/></g>
<g transform="translate(0 26)"><use href="#Y" x="9"/><use href="#F" x="10"/><use href="#L" x="11"/><use href="#T" x="12"/><use href="#N" x="13"/><use href="#D" x="14"/><use href="#N" x="15"/><use href="#T" x="16"/><use href="#V" x="18"/><use href="#K" x="19"/><use href="#N" x="20"/><use href="#G" x="21"/><use href="#G" x="22"/><use href="#E" x="23"/><use href="#K" x="25"/><use href="#V" x="26"/><use href="#G" x="27"/><use href="#G" x="28"/><use href="#D" x="29"/><use href="#M" x="30"/><use href="#K" x="34"/><use href="#A" x="37"/><use href="#R" x="38"/><use href="#M" x="40"/><use href="#E" x="41"/><use href="#E" x="43"/><use href="#N" x="45"/><use href="#T" x="46"/><use href="#K" x="47"/><use href="#F" x="48"/><use href="#S" x="50"/><use href="#P" x="51"/><use href="#N" x="52"/><use href="#G" x="53"/><use href="#T" x="55"/><use href="#T" x="57"/><use href="#K" x="58"/><use href="#D" x="59"/><use href="#T" x="60"/><use href="#K" x="66"/><use href="#T" x="67"/></g>
<g transform="translate(0 27)"><use href="#T" x="0"/><use href="#N" x="1"/><use href="#A" x="2"/><use href="#I" x="3"/><use href="#S" x="4"/><use href="#A" x="5"/><use href="#K" x="6"/><use href="#E" x="7"/><use href="#R" x="8"/><use href="#Y" x="9"/><use href="#I" x="10"/><use href="#Y" x="11"/><use href="#T" x="12"/><use href="#N" x="13"/><use href="#Q" x="14"/><use href="#S" x="15"/><use href="#G" x="16"/><use href="#V" x="18"/><use href="#K" x="19"/><use href="#N" x="20"/><use href="#G" x="21"/><use href="#G" x="22"/><use href="#T" x="23"/><use href="#T" x="25"/><use href="#P" x="26"/><use href="#N" x="27"/><use href="#S" x="28"/><use href="#D" x="29"/><use href="#V" x="30"/><use href="#K" x="34"/><use href="#A" x="37"/><use href="#K" x="38"/><use href="#F" x="40"/><use href="#E" x="41"/><use href="#E" x="43"/><use href="#N" x="45"/><use href="#T" x="46"/><use href="#Q" x="47"/><use href="#F" x="48"/><use href="#S" x="50"/><use href="#P" x="51"/><use href="#N" x="52"/><use href="#G" x="53"/><use href="#A" x="55"/><use href="#C" x="57"/></g>
</g>
<g id="residues" class="sq">
<text x="1103.86" y="775.9">AEEQVNVPFLPDEREVKCIGWQEYCRGNL-----PCCDDCVMCECNIM---GQNCRCNHPRITSECGSRR-</text>
<text x="1103.86" y="791.09">--------------AGKCFGWQEDCDGRS-----PCCDDCVICQCNVI---GQNCRCNRTRPS--CLSGR-</text>
<text x="1103.86" y="806.28">-----------AERATKCHGWQEECSGKY-----PCCDDCIICQCNVI---GQNCRCNRHRPS--CLSGR-</text>
<text x="1103.86" y="821.47">--------------AVKCIGWQETCNGQL-----PCCDGCVMCECNIM---GQNCRCNHPKMTSECGSRR-</text>
<text x="1103.86" y="836.66">-------------EDVKCAKPEDDCKALMK----PCCDECKICMCNIT---GKNCTCSATRMS--CWSGR</text>
<text x="1103.86" y="851.85">----------------VCAGWWEDCADNVLADAIPCCDRCVICQCNAI---GQNCRCAKHRLS--CDK---</text>
<text x="1103.86" y="867.04">----------------KCAGWSEDCARNVLAEATPCCDSCVICQCNAI---GQSCTCSRTRLS--CSTK--</text>
<text x="1103.86" y="882.23">----------------FCAGWQKECKLPSG-ETIKCCDDCSVCRCNPL---GGNCTCNERKAS--CSGK--</text>
<text x="1103.86" y="897.42">-------------GDETCHPYWGRCEDKK-----PCCDDCYYCACSIY-INGEVCRCNEKHTS--CSKK--</text>
<text x="1103.86" y="912.61">-------------DDETCHPYWGRCEDDK-----PCCDKCYYCACSTHVINGKVCRCNERYAS--CSKK--</text>
<text x="1103.86" y="927.8">---------------ADCAGWDEECTHRV------CCDDCKVCRCNGF---GTNCRCNESRSS--CDKK--</text>
<text x="1103.86" y="942.99">---------------GTCAANDAECDRGAGQ---VCCDECYVCKCLGS--FSQPCRCVRSAFR--CNS---</text>
<text x="1103.86" y="958.18">-------------IEGTCAGWDKSCDRI------PCCNKCHVCYCNPF---GTNCRCNETRMS--C-----</text>
<text x="1103.86" y="973.37">--------------IGECAGWNDNCDKRS------CCDQCHQCRCK-F---GSNCRCTGTKPS--CGKR--</text>
<text x="1103.86" y="988.56">----------------ECSATGKDCNSSG-----RCCDTCYVCKCRTAW--GTNCWCDYRKMS--CDSGK-</text>
<text x="1103.86" y="1003.75">----------------ECSATGKDCNSSG-----RCCDTCYVCKCRTPW--GTNCWCDYRKMT--CDSGK-</text>
<text x="1103.86" y="1018.94">----------------ACSETGKSCDDTR-----VCCDECYTCKCRTPS--GGNCWCDYKRMT--CGMGK-</text>
<text x="1103.86" y="1034.13">---------------ADCSATGDTCDHTK-----KCCDDCYTCRCGTPW--GANCRCDYYKAR--CDT---</text>
<text x="1103.86" y="1049.32">---------------ADCSATGDTCDHTK-----KCCDDCYTCRCGTPW--GANCRCDYHKMR--CDTGKK</text>
<text x="1103.86" y="1064.51">---------------KQCGVDYQTCDVNEP----PCCE-CYECSCPTQS-QDSNCQCVYLKDK--CGTGKI</text>
<text x="1103.86" y="1079.7">------------GLRKQCGVDYQTCDVNEP----PCCE-CYECSCPTKY-QDSNCQCVYLKDK--CGTGK-</text>
<text x="1103.86" y="1094.89">--------------EKKCGILNSPCNSPDDA---PCCEKCYKCHCKFGE-PLSSCSCQFKNDS--CATGRG</text>
<text x="1103.86" y="1110.08">-----------------CGILNSRCMAGDP----PCCDKCYECHCPNGW-EDYNCKCVYGRDE-MCQTG--</text>
<text x="1103.86" y="1125.27">----------KLDIGMDCGKDQQSCGPNDP----SCCP-CHKCECPTLA-HTNKCVCVRH-----CNSR--</text>
<text x="1103.86" y="1140.46">---------YIGTNDTSCLKPGATCGGGDKR---SCCGSCFECTCSKNS---GKCNCNDT-----CKSGK-</text>
<text x="1103.86" y="1155.65">---------YIGTNNTSCLKPGAGCSKDSK----PCCAYCFECMCGEN-----GCSCRDT-----CRTGRR</text>
<text x="1103.86" y="1170.84">---------YFLTNDNTCVKNGGECKVGGDM---KCCARCMECECNTKF-SPNGCTCTKDT----CKT---</text>
<text x="1103.86" y="1186.03">TNAISAKERYIYTNQSGCVKNGGTCTPNSDV---KCCAKCFECECNTQF-SPNGCACC-------------</text>
</g>
<g id="row-labels" class="rl">
<text x="1096" y="800.4" fill="#ee1c1c">U1-PHTX</text>
<text x="1096" y="868.7" fill="#22e6f0">U8-PHTX</text>
<text x="1096" y="906.7" fill="#22dd22">U9-PHTX</text>
<text x="1096" y="929.5" fill="#f0e010">U3-PHTX</text>
<text x="1096" y="944.7" fill="#ee1c1c">m.9271</text>
<text x="1096" y="959.9" fill="#ee1c1c">m.809</text>
<text x="1096" y="975.1" fill="#ee1c1c">δ/ω–PLTX</text>
<text x="1096" y="997.9" fill="#1a1ae6">U5-PHTX</text>
<text x="1096" y="1020.6" fill="#ec1282">U4-PHTX</text>
<text x="1096" y="1043.4" fill="#ee1c1c">ω-PLTX</text>
<text x="1096" y="1073.8" fill="#145a28">U6-PHTX</text>
<text x="1096" y="1096.6" fill="#a85a10">U11-PHTX</text>
<text x="1096" y="1127" fill="#ee1c1c">m.9630</text>
<text x="1096" y="1142.2" fill="#145a28">U6-PHTX</text>
<text x="1096" y="1157.4" fill="#18a040">U7-PHTX</text>
<text x="1096" y="1172.5" fill="#ee1c1c">m.1994</text>
<text x="1096" y="1187.7" fill="#ee1c1c">m.10905</text>
</g>
<g id="disulfide-bonds" class="ss">
<path d="M1322.4 1191.5V1215H1562.7V1191.5"/>
<path d="M1411 1191.5V1235.3H1638.6V1191.5"/>
<path d="M1550.1 1191.5V1254H1815.7V1191.5"/>
<path d="M1600.7 1191.5V1275.3H1929.6V1191.5"/>
<path d="M1663.9 1191.5V1213H1790.4V1191.5"/>
</g>
</g>
</svg>
